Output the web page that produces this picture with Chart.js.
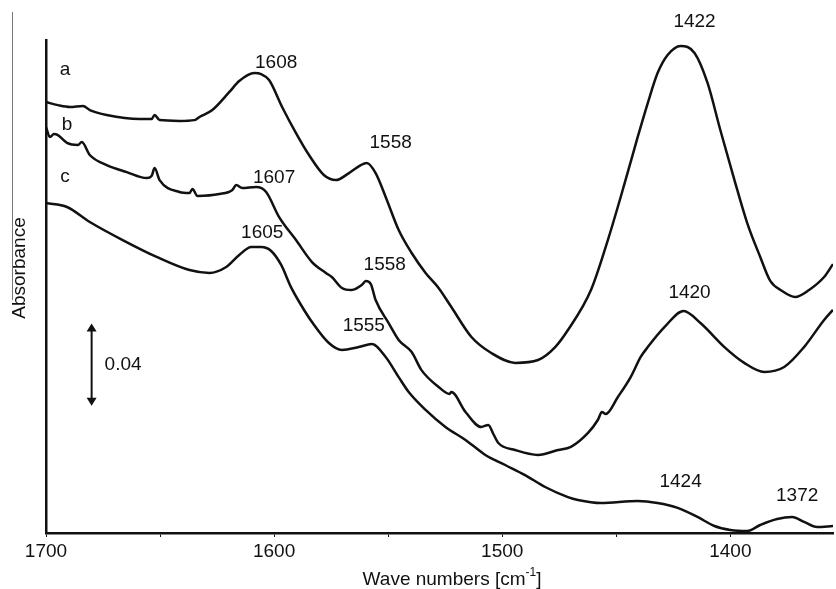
<!DOCTYPE html>
<html>
<head>
<meta charset="utf-8">
<script src="https://cdn.jsdelivr.net/npm/chart.js@4.4.1/dist/chart.umd.min.js"></script>
<style>
  html, body { margin: 0; padding: 0; background: #fff; }
  canvas { display: block; }
</style>
</head>
<body>
<canvas id="irChart" width="836" height="589"></canvas>
<script>
// Spectrum a
const waveA = [1700, 1694.8, 1689.5, 1683.8, 1680.8, 1673.4, 1659, 1653.7, 1652.4, 1650.2, 1641.5, 1634.9, 1632.7, 1627.1,
  1619.6, 1615.3, 1608.7, 1605.7, 1602.2, 1596.5, 1590.4, 1584.7, 1578.2, 1572.9, 1567.2, 1562, 1559.4, 1555.5, 1551.1,
  1545.4, 1539.7, 1533.6, 1527.9, 1522.3, 1513.5, 1504.8, 1494.3, 1484.3, 1476.8, 1471.2, 1461.1, 1453.7, 1446.3, 1440.6,
  1436.2, 1431.9, 1427.5, 1421.8, 1415.7, 1410, 1404.4, 1398.2, 1392.6, 1386.9, 1382.5, 1377.3, 1371.6, 1365.5, 1358.9, 1355];
const absA = [0.2098, 0.2083, 0.2074, 0.2079, 0.2059, 0.2035, 0.2015, 0.2015, 0.2035, 0.2010, 0.2006, 0.2010, 0.2025, 0.2059,
  0.2147, 0.2200, 0.2239, 0.2234, 0.2205, 0.2074, 0.1947, 0.1840, 0.1743, 0.1718, 0.1752, 0.1791, 0.1801, 0.1752, 0.1636,
  0.1475, 0.1363, 0.1266, 0.1193, 0.1100, 0.0954, 0.0876, 0.0828, 0.0842, 0.0905, 0.0988, 0.1183, 0.1426, 0.1704, 0.1928,
  0.2093, 0.2239, 0.2327, 0.2371, 0.2337, 0.2191, 0.1962, 0.1718, 0.1509, 0.1344, 0.1227, 0.1178, 0.1149, 0.1183, 0.1246, 0.1309];

// Spectrum b
const waveB = [1700, 1698.3, 1696.5, 1694.8, 1690.8, 1686, 1684.3, 1680.8, 1673.4, 1664.6, 1655.9, 1653.7, 1652.4, 1650.2,
  1641.5, 1637.1, 1635.8, 1633.6, 1624, 1618.3, 1616.6, 1614, 1607.9, 1603.5, 1597.8, 1590.4, 1583.4, 1577.3, 1574.7,
  1570.3, 1566, 1561.6, 1559.8, 1557.6, 1555.5, 1549.8, 1545.4, 1539.7, 1535.4, 1527.9, 1523.1, 1522.3, 1516.1, 1509.2,
  1506.1, 1503.9, 1501.7, 1494.3, 1484.3, 1475.5, 1469.9, 1462.4, 1458.1, 1456.3, 1454.6, 1449.3, 1443.7, 1439.3, 1436.2,
  1428.8, 1420.5, 1413.1, 1402.6, 1393.9, 1385.1, 1376.4, 1367.7, 1358.9, 1355];
const absB = [0.1976, 0.1928, 0.1942, 0.1937, 0.1899, 0.1889, 0.1903, 0.1840, 0.1791, 0.1757, 0.1728, 0.1738, 0.1777, 0.1718,
  0.1660, 0.1655, 0.1675, 0.1641, 0.1650, 0.1670, 0.1694, 0.1679, 0.1684, 0.1660, 0.1538, 0.1426, 0.1319, 0.1266, 0.1246,
  0.1193, 0.1183, 0.1207, 0.1227, 0.1212, 0.1134, 0.1022, 0.0940, 0.0881, 0.0793, 0.0711, 0.0677, 0.0686, 0.0589, 0.0516,
  0.0526, 0.0482, 0.0438, 0.0404, 0.0380, 0.0404, 0.0419, 0.0487, 0.0550, 0.0589, 0.0579, 0.0662, 0.0759, 0.0857, 0.0905,
  0.1003, 0.1081, 0.1022, 0.0905, 0.0828, 0.0784, 0.0808, 0.0905, 0.1037, 0.1086];

// Spectrum c
const waveC = [1700, 1690.8, 1680.8, 1666.4, 1651.5, 1637.1, 1628.4, 1621, 1615.3, 1610, 1605.7, 1601.3, 1596.9, 1592.6,
  1588.2, 1583.4, 1576, 1570.3, 1562.9, 1557.2, 1551.1, 1545.4, 1541, 1533.6, 1524.9, 1516.1, 1507.4, 1498.7, 1490, 1481.2,
  1471.2, 1466.8, 1456.8, 1440.6, 1431.9, 1423.1, 1414.4, 1407, 1400, 1392.6, 1386.9, 1379.5, 1372.9, 1367.7, 1362, 1355];
const absC = [0.1606, 0.1587, 0.1514, 0.1426, 0.1344, 0.1280, 0.1266, 0.1295, 0.1353, 0.1392, 0.1392, 0.1373, 0.1305, 0.1197,
  0.1110, 0.1027, 0.0925, 0.0891, 0.0905, 0.0920, 0.0857, 0.0759, 0.0686, 0.0599, 0.0516, 0.0453, 0.0380, 0.0331, 0.0282, 0.0224,
  0.0175, 0.0161, 0.0146, 0.0156, 0.0146, 0.0122, 0.0078, 0.0034, 0.0015, 0.0010, 0.0039, 0.0068, 0.0078, 0.0054, 0.0029, 0.0034];

// x tick labels
const xTickLabels = [1700, 1600, 1500, 1400];

// peak / curve labels (text at wave, absorbance)
const noteText = ['a', 'b', 'c', '1608', '1607', '1605', '1558', '1558', '1555', '1422', '1420', '1424', '1372'];
const noteWave = [1691.7, 1690.8, 1691.7, 1599.1, 1600, 1605.2, 1548.9, 1551.5, 1560.7, 1415.7, 1417.9, 1421.8, 1370.7];
const noteAbs = [0.2254, 0.1986, 0.1733, 0.2288, 0.1728, 0.1460, 0.1899, 0.1305, 0.1008, 0.2488, 0.1168, 0.0248, 0.0180];

// scale bar
const barWave = 1680;
const barAbs = [0.062, 0.102];
const barText = '0.04';

const toPoints = (xs, ys) => xs.map((x, i) => ({ x, y: ys[i] }));
const FONT = "'Liberation Sans', Arial, sans-serif";
const INK = '#111';

function lineSet(label, xs, ys) {
  return {
    label,
    data: toPoints(xs, ys),
    borderColor: INK,
    borderWidth: 2.5,
    pointRadius: 0,
    fill: false,
    cubicInterpolationMode: 'monotone'
  };
}

const annotations = {
  id: 'annotations',
  afterDraw(chart) {
    const { ctx, scales: { x, y } } = chart;
    ctx.save();
    ctx.fillStyle = INK;
    ctx.font = '19px ' + FONT;
    ctx.textAlign = 'center';
    ctx.textBaseline = 'middle';
    noteText.forEach((t, i) => {
      ctx.fillText(t, x.getPixelForValue(noteWave[i]), y.getPixelForValue(noteAbs[i]));
    });

    // scale bar with arrow heads
    const bx = x.getPixelForValue(barWave);
    const y1 = y.getPixelForValue(barAbs[1]);
    const y0 = y.getPixelForValue(barAbs[0]);
    ctx.strokeStyle = INK;
    ctx.lineWidth = 2;
    ctx.beginPath();
    ctx.moveTo(bx, y1 + 4);
    ctx.lineTo(bx, y0 - 4);
    ctx.stroke();
    ctx.beginPath();
    ctx.moveTo(bx, y1); ctx.lineTo(bx - 5, y1 + 8); ctx.lineTo(bx + 5, y1 + 8); ctx.closePath();
    ctx.moveTo(bx, y0); ctx.lineTo(bx - 5, y0 - 8); ctx.lineTo(bx + 5, y0 - 8); ctx.closePath();
    ctx.fill();
    ctx.textAlign = 'left';
    ctx.fillText(barText, bx + 13, (y0 + y1) / 2);

    // y title
    ctx.save();
    ctx.translate(20, 268);
    ctx.rotate(-Math.PI / 2);
    ctx.textAlign = 'center';
    ctx.font = '19px ' + FONT;
    ctx.fillText('Absorbance', 0, 0);
    ctx.restore();

    // x title with superscript
    const tx = x.getPixelForValue(1522);
    const ty = 580;
    const main = 'Wave numbers [cm';
    ctx.font = '19px ' + FONT;
    const w1 = ctx.measureText(main).width;
    ctx.font = '12px ' + FONT;
    const w2 = ctx.measureText('-1').width;
    ctx.font = '19px ' + FONT;
    const w3 = ctx.measureText(']').width;
    const sx = tx - (w1 + w2 + w3) / 2;
    ctx.textAlign = 'left';
    ctx.fillText(main, sx, ty);
    ctx.font = '12px ' + FONT;
    ctx.fillText('-1', sx + w1, ty - 7);
    ctx.font = '19px ' + FONT;
    ctx.fillText(']', sx + w1 + w2, ty);

    // faint frame line at far left
    ctx.strokeStyle = '#777';
    ctx.lineWidth = 1;
    ctx.beginPath();
    ctx.moveTo(12.5, 12);
    ctx.lineTo(12.5, 300);
    ctx.stroke();
    ctx.restore();
  }
};

new Chart(document.getElementById('irChart'), {
  type: 'line',
  data: {
    datasets: [
      lineSet('a', waveA, absA),
      lineSet('b', waveB, absB),
      lineSet('c', waveC, absC)
    ]
  },
  options: {
    responsive: false,
    animation: false,
    layout: { padding: { left: 46, top: 40, right: 0, bottom: 0 } },
    plugins: { legend: { display: false }, tooltip: { enabled: false } },
    scales: {
      x: {
        type: 'linear',
        reverse: true,
        min: 1355,
        max: 1700,
        afterFit: s => { s.height = 56; },
        border: { display: true, color: INK, width: 2.5 },
        grid: {
          drawOnChartArea: false,
          drawTicks: true,
          tickLength: 4,
          color: c => (c.tick && c.tick.value % 50 === 0 ? INK : 'rgba(0,0,0,0)')
        },
        ticks: {
          stepSize: 50,
          autoSkip: false,
          maxRotation: 0,
          padding: 3,
          color: INK,
          font: { family: FONT, size: 19 },
          callback: v => (xTickLabels.includes(v) ? String(v) : '')
        }
      },
      y: {
        min: 0,
        max: 0.24,
        afterFit: s => { s.width = 0; },
        border: { display: true, color: INK, width: 2.5 },
        grid: { display: false, drawTicks: false },
        ticks: { display: false }
      }
    }
  },
  plugins: [annotations]
});
</script>
</body>
</html>
